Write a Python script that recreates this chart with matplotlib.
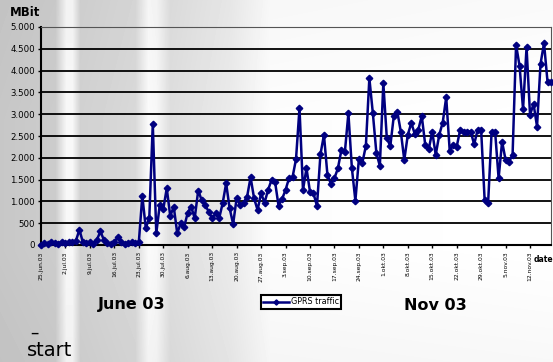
import matplotlib
matplotlib.use('Agg')
import matplotlib.pyplot as plt
import numpy as np

# Daily GPRS traffic in MBit, starting 25.jun.03
traffic_jun_jul = [10, 40, 20, 60, 50, 30, 80, 40, 60, 70, 100, 350, 60, 40, 70,
                   30, 120, 310, 120, 40, 20, 60, 190, 60, 30, 40, 70, 50, 60]
traffic_late_jul = [1125, 390, 620, 2780, 270, 920, 820, 1300, 665, 880, 268,
                    500, 420, 740, 880, 612, 1250]
traffic_aug = [1030, 918, 765, 612, 727, 612, 956, 1415, 841, 482, 1071, 918,
               971, 1109, 1553, 1071, 803, 1186, 971, 1262, 1492, 1453]
traffic_sep = [900, 1050, 1262, 1530, 1553, 1966, 3137, 1262, 1760, 1224, 1186,
               895, 2081, 2525, 1607, 1400, 1530, 1760, 2180, 2142, 3022, 1760,
               1017, 1966, 1890, 2272, 3825, 3022, 2119, 1813, 3710, 2448, 2272,
               2960, 3060]
traffic_oct_nov = [2600, 1950, 2525, 2800, 2550, 2640, 2960, 2295, 2196, 2601,
                   2066, 2525, 2808, 3389, 2165, 2295, 2257, 2640, 2601, 2601,
                   2601, 2310, 2640, 2640, 1033, 970, 2601, 2601, 1530, 2372,
                   1950, 1913, 2066, 4590, 4108, 3114, 4536, 2983, 3236, 2716,
                   4154, 4628, 3748, 3748]

traffic = traffic_jun_jul + traffic_late_jul + traffic_aug + traffic_sep + traffic_oct_nov
days = np.arange(len(traffic))

date_labels = ['25.jun.03', '2.jul.03', '9.jul.03', '16.jul.03', '23.jul.03',
               '30.jul.03', '6.aug.03', '13.aug.03', '20.aug.03', '27.aug.03',
               '3.sep.03', '10.sep.03', '17.sep.03', '24.sep.03', '1.okt.03',
               '8.okt.03', '15.okt.03', '22.okt.03', '29.okt.03', '5.nov.03',
               '12.nov.03']
y_ticks = [0, 500, 1000, 1500, 2000, 2500, 3000, 3500, 4000, 4500, 5000]

W, H = 553, 362
fig = plt.figure(figsize=(W / 100, H / 100), dpi=100)

# grey slide background with light vertical streaks
bg = fig.add_axes([0, 0, 1, 1], zorder=0)
px = np.arange(W)
shade = np.interp(px, [0, 55, 66, 72, 80, 135, 148, 156, 170, 230, 270, 553],
                  [0.78, 0.80, 0.97, 0.97, 0.82, 0.85, 0.98, 0.97, 0.87, 0.92, 0.99, 1.0])
rows = np.interp(np.arange(H), [0, 120, 250, 362], [0.97, 1.0, 1.0, 0.96])
img = np.clip(shade[None, :] * rows[:, None] + (1 - rows[:, None]) * 0.3, 0, 1)
bg.imshow(img, cmap='gray', vmin=0, vmax=1, aspect='auto', extent=[0, W, H, 0])
bg.axis('off')

ax = fig.add_axes([41 / W, 1 - 245 / H, 510 / W, 218 / H], zorder=1)
ax.set_facecolor('none')

for v in y_ticks[1:]:
    ax.axhline(v, color='black', lw=1.3, zorder=1)

ax.plot(days, traffic, color='#000080', lw=1.8, marker='D', markersize=3.3,
        label='GPRS traffic', zorder=3, clip_on=False)

ax.set_xlim(0, len(traffic) - 1)
ax.set_ylim(0, 5000)
ax.set_yticks(y_ticks)
ax.set_yticklabels(['{:,}'.format(v).replace(',', '.') for v in y_ticks], fontsize=6.2)
ax.set_xticks(np.arange(0, 7 * len(date_labels), 7))
ax.set_xticklabels(date_labels, rotation=90, fontsize=4.3)
ax.tick_params(axis='both', length=2.5, width=1, pad=2)

for side in ['left', 'bottom']:
    ax.spines[side].set_linewidth(1.5)
ax.spines['top'].set_color('#555555')
ax.spines['right'].set_color('#555555')

fig.text(10 / W, 1 - 12 / H, 'MBit', fontsize=8.5, fontweight='bold', va='center')
fig.text(534 / W, 1 - 259 / H, 'date', fontsize=5.5, fontweight='bold', va='center')
fig.text(132 / W, 1 - 305 / H, 'June 03', fontsize=11.5, fontweight='bold',
         ha='center', va='center')
fig.text(435 / W, 1 - 305 / H, 'Nov 03', fontsize=11.5, fontweight='bold',
         ha='center', va='center')
fig.text(30 / W, 1 - 333 / H, '–', fontsize=12, va='center')
fig.text(27 / W, 1 - 350 / H, 'start', fontsize=14, va='center')

leg = ax.legend(loc='center', bbox_to_anchor=(301 / W, 1 - 302 / H),
                bbox_transform=fig.transFigure, fontsize=5.8, frameon=True,
                fancybox=False, handlelength=3.2, handletextpad=0.2,
                borderpad=0.3, markerscale=0.8)
leg.get_frame().set_edgecolor('black')
leg.get_frame().set_linewidth(1.5)
leg.get_frame().set_facecolor('white')
leg.get_frame().set_alpha(1)

fig.savefig('out.png', dpi=100)
